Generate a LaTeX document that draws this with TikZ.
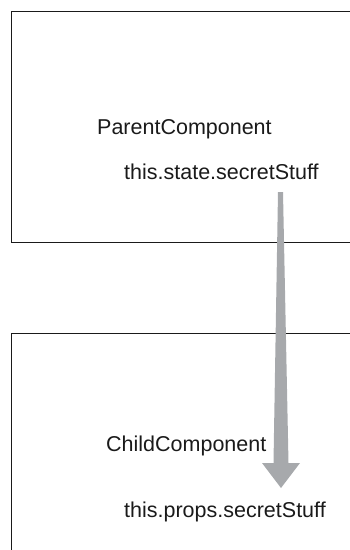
\documentclass[tikz,border=0pt]{standalone}
\usepackage{fontspec}
\setmainfont{Liberation Sans}
\usetikzlibrary{positioning, calc}
\definecolor{flowgray}{HTML}{A7A9AC}
\definecolor{inkblack}{HTML}{1A1A1A}

\begin{document}
\begin{tikzpicture}[
  x=1pt, y=-1pt,
  compbox/.style={
    draw=inkblack, line width=1pt, anchor=north west,
    minimum width=360pt, minimum height=#1, inner sep=0pt
  },
  lbl/.style={
    font=\fontsize{21.5}{26}\selectfont, text=inkblack,
    anchor=base west, inner sep=0pt
  },
]

% Canvas
\useasboundingbox (0,0) rectangle (350,550);
\clip (0,0) rectangle (350,550);

% =============================================
% Component boxes (run off the right edge)
% =============================================
\node[compbox=231pt] (parent) at (11,11) {};
\node[compbox=240pt] (child) at (11,333) {};

% =============================================
% Labels
% =============================================
\node[lbl] (parentname) at (97,134) {ParentComponent};
\node[lbl] (statevar) at (124,179) {this.state.secretStuff};

\node[lbl] (childname) at (106,451) {ChildComponent};
\node[lbl] (propsvar) at (124,517) {this.props.secretStuff};

% =============================================
% Data flow: state -> props (tapered arrow)
% =============================================
\coordinate (flowtop) at (280.5,192);
\coordinate (flowtip) at (281,488);

\fill[flowgray]
  ($(flowtop)+(-2.5,0)$) -- ($(flowtop)+(2.5,0)$)
  -- ($(flowtip)+(7.5,-25)$) -- ($(flowtip)+(19,-25)$)
  -- (flowtip)
  -- ($(flowtip)+(-19,-25)$) -- ($(flowtip)+(-7.5,-25)$)
  -- cycle;

\end{tikzpicture}
\end{document}
